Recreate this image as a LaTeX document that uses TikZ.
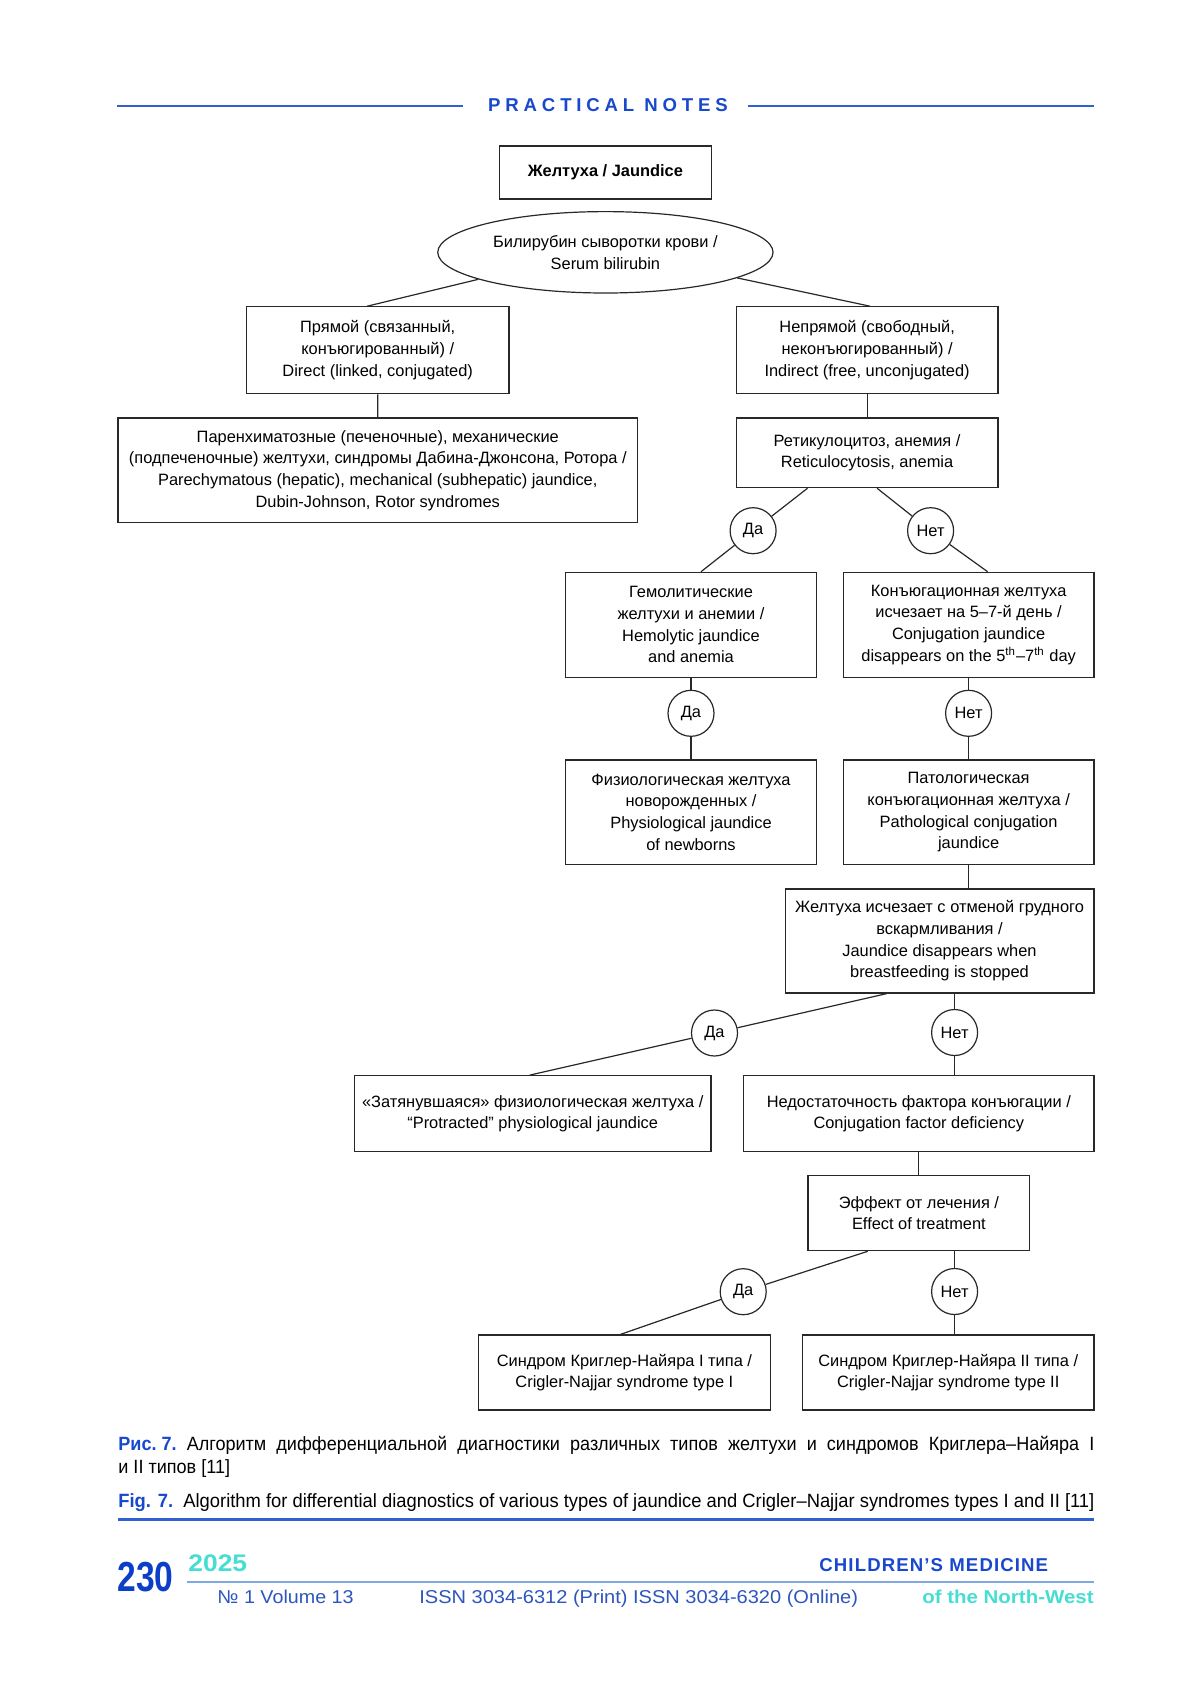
\documentclass[tikz,border=0pt]{standalone}
\usepackage{fontspec}
\usepackage{graphicx}
\setmainfont{Liberation Sans}
\newfontfamily\hdrfont{Liberation Sans}[LetterSpace=26]
\newfontfamily\ftfont{Liberation Sans}[LetterSpace=6]
\newfontfamily\capfont{Liberation Sans}[FakeStretch=0.94]
\usetikzlibrary{shapes.geometric}
\definecolor{hblue}{RGB}{24,72,206}
\definecolor{lblue}{RGB}{50,95,210}
\definecolor{numblue}{RGB}{12,62,200}
\definecolor{cyanc}{RGB}{70,222,210}
\definecolor{fblue}{RGB}{125,168,228}
\definecolor{iblue}{RGB}{45,85,190}
\definecolor{lc}{RGB}{40,40,40}
\newcommand\dfont{\fontsize{8.2}{10.85}\selectfont}
\begin{document}
\begin{tikzpicture}[x=0.5pt,y=-0.5pt,
  bx/.style={draw=lc, line width=0.6pt, align=center, inner sep=0pt, font=\dfont, text=black},
  wh/.style 2 args={minimum width=#1*0.5pt, minimum height=#2*0.5pt},
  dn/.style={draw=lc, line width=0.6pt, circle, minimum size=46*0.5pt, inner sep=0pt, font=\dfont},
  ln/.style={draw=lc, line width=0.6pt},
  hline/.style={draw=lblue, line width=1pt},
  txt/.style={inner sep=0pt}]
\useasboundingbox (0,0) rectangle (1200,1698);
\fill[white] (0,0) rectangle (1200,1698);

% header
\draw[hline] (117.1,105.7) -- (462.6,105.7);
\draw[hline] (748.2,105.7) -- (1094.4,105.7);
\node[txt, anchor=base, text=hblue] (hdr) at (608,111.7) {\hdrfont\bfseries\fontsize{9.3}{11}\selectfont PRACTICAL NOTES};

% nodes
\node[bx, wh={212}{53}] (jaund) at (605.4,172.5) {\bfseries Желтуха / Jaundice};
\node[draw=lc, line width=0.6pt, ellipse, minimum width=335.3*0.5pt, minimum height=81.4*0.5pt, inner sep=0pt, align=center, font=\dfont] (ell) at (605.4,252.3) {Билирубин сыворотки крови /\\Serum bilirubin};
\node[bx, wh={262.7}{87}] (direct) at (377.7,350.3) {Прямой (связанный,\\конъюгированный) /\\Direct (linked, conjugated)};
\node[bx, wh={261.7}{87}] (indirect) at (867.1,350.3) {Непрямой (свободный,\\неконъюгированный) /\\Indirect (free, unconjugated)};
\node[bx, wh={519.8}{104.7}] (paren) at (377.8,470.3) {Паренхиматозные (печеночные), механические\\(подпеченочные) желтухи, синдромы Дабина-Джонсона, Ротора /\\Parechymatous (hepatic), mechanical (subhepatic) jaundice,\\Dubin-Johnson, Rotor syndromes};
\node[bx, wh={261.7}{69.7}] (retic) at (867.1,452.8) {Ретикулоцитоз, анемия /\\Reticulocytosis, anemia};
\node[dn] (da1) at (753.1,530.7) {Да};
\node[dn] (net1) at (930.6,530.7) {Нет};
\node[bx, wh={250.7}{105}] (hemo) at (691,624.8) {Гемолитические\\желтухи и анемии /\\Hemolytic jaundice\\and anemia};
\node[bx, wh={250.7}{105}] (conj) at (968.6,624.8) {Конъюгационная желтуха\\исчезает на 5–7-й день /\\Conjugation jaundice\\disappears on the 5\textsuperscript{th}–7\textsuperscript{th} day};
\node[dn] (da2) at (691,713.3) {Да};
\node[dn] (net2) at (968.6,713.3) {Нет};
\node[bx, wh={250.7}{104.3}] (phys) at (691,812.2) {Физиологическая желтуха\\новорожденных /\\Physiological jaundice\\of newborns};
\node[bx, wh={250.7}{104.3}] (path) at (968.6,812.2) {Патологическая\\конъюгационная желтуха /\\Pathological conjugation\\jaundice};
\node[bx, wh={308.8}{104}] (breast) at (939.5,941) {Желтуха исчезает с отменой грудного\\вскармливания /\\Jaundice disappears when\\breastfeeding is stopped};
\node[dn] (da3) at (714.5,1033) {Да};
\node[dn] (net3) at (954.6,1032.5) {Нет};
\node[bx, wh={356.4}{76}] (prot) at (532.7,1113.7) {«Затянувшаяся» физиологическая желтуха /\\“Protracted” physiological jaundice};
\node[bx, wh={350.2}{76}] (defic) at (918.8,1113.7) {Недостаточность фактора конъюгации /\\Conjugation factor deficiency};
\node[bx, wh={221.9}{75}] (effect) at (918.9,1213.2) {Эффект от лечения /\\Effect of treatment};
\node[dn] (da4) at (743.2,1291.7) {Да};
\node[dn] (net4) at (954.6,1291.5) {Нет};
\node[bx, wh={291.5}{75}] (cn1) at (624.4,1372.5) {Синдром Криглер-Найяра I типа /\\Crigler-Najjar syndrome type I};
\node[bx, wh={291.4}{75}] (cn2) at (948.2,1372.5) {Синдром Криглер-Найяра II типа /\\Crigler-Najjar syndrome type II};

% connectors
\draw[ln] (ell.192) -- ([xshift=-5.3pt]direct.north);
\draw[ln] (ell.349) -- ([xshift=1.5pt]indirect.north);
\draw[ln] (direct.south) -- (paren.north);
\draw[ln] (indirect.south) -- (retic.north);
\draw[ln] ([xshift=-29.8pt]retic.south) -- (da1);
\draw[ln] (da1) -- ([xshift=5pt]hemo.north);
\draw[ln] ([xshift=5pt]retic.south) -- (net1);
\draw[ln] (net1) -- ([xshift=9.5pt]conj.north);
\draw[ln] (hemo.south) -- (da2);
\draw[ln] (da2) -- (phys.north);
\draw[ln] (conj.south) -- (net2);
\draw[ln] (net2) -- (path.north);
\draw[ln] (path.south) -- (path.south |- breast.north);
\draw[ln] ([xshift=-26.4pt]breast.south) -- (da3);
\draw[ln] (da3) -- ([xshift=-1.5pt]prot.north);
\draw[ln] (net3 |- breast.south) -- (net3);
\draw[ln] (net3) -- (net3 |- defic.north);
\draw[ln] (defic.south) -- (defic.south |- effect.north);
\draw[ln] ([xshift=-25.6pt]effect.south) -- (da4);
\draw[ln] (da4) -- ([xshift=-2pt]cn1.north);
\draw[ln] (net4 |- effect.south) -- (net4);
\draw[ln] (net4) -- (net4 |- cn2.north);

% caption
\node[txt, anchor=base west] (cap1) at (118,1450) {\capfont\fontsize{9.6}{11.5}\selectfont\makebox[488pt][s]{\mbox{\textcolor{hblue}{\bfseries Рис.~7.}} Алгоритм дифференциальной диагностики различных типов желтухи и синдромов Криглера–Найяра I}};
\node[txt, anchor=base west] (cap2) at (118,1473) {\capfont\fontsize{9.6}{11.5}\selectfont и II типов [11]};
\node[txt, anchor=base west] (cap3) at (118,1507) {\fontsize{9.6}{11.5}\selectfont\resizebox{488pt}{\height}{\textcolor{hblue}{\bfseries Fig. 7.}\ \ Algorithm for differential diagnostics of various types of jaundice and Crigler–Najjar syndromes types I and II [11]}};
\draw[draw=lblue, line width=1.5pt] (118,1519.5) -- (1094,1519.5);

% footer
\node[txt, anchor=base west, text=numblue] (pg) at (117,1591.7) {\scalebox{0.8}[1]{\fontsize{21}{21}\selectfont\bfseries 230}};
\node[txt, anchor=base west, text=cyanc] (yr) at (188,1571.7) {\scalebox{1.1}[1]{\fontsize{12}{12}\selectfont\bfseries 2025}};
\draw[draw=fblue, line width=1.2pt] (187,1581.7) -- (1094,1581.7);
\node[txt, anchor=base west, text=hblue] (jn) at (819,1571.7) {\ftfont\bfseries\fontsize{9.3}{11}\selectfont CHILDREN’S MEDICINE};
\node[txt, anchor=base west, text=iblue] (vol) at (217,1603) {\scalebox{1.06}[1]{\fontsize{9.3}{11}\selectfont № 1 Volume 13}};
\node[txt, anchor=base west, text=iblue] (issn) at (419,1603) {\scalebox{1.077}[1]{\fontsize{9.3}{11}\selectfont ISSN 3034-6312 (Print) ISSN 3034-6320 (Online)}};
\node[txt, anchor=base east, text=cyanc] (nw) at (1094,1603) {\scalebox{1.1}[1]{\fontsize{9.3}{11}\selectfont\bfseries of the North-West}};
\end{tikzpicture}
\end{document}
